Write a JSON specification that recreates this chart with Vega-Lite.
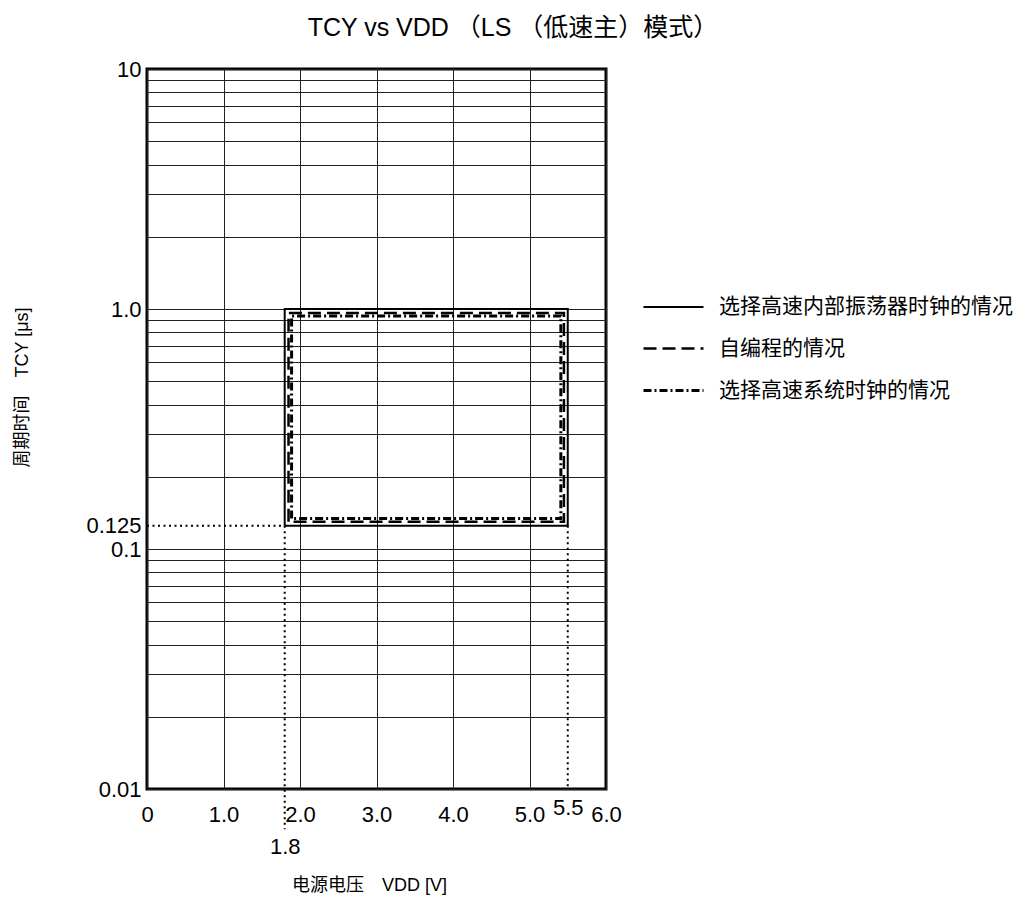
{
  "$schema": "https://vega.github.io/schema/vega-lite/v6.json",
  "width": 459,
  "height": 720,
  "autosize": {"type": "none"},
  "padding": {"left": 147, "top": 69, "right": 410, "bottom": 110},
  "background": "white",
  "title": {
    "text": "TCY vs VDD （LS （低速主）模式）",
    "font": "Liberation Sans, Noto Sans CJK SC",
    "fontSize": 25,
    "fontWeight": "normal",
    "color": "black",
    "anchor": "middle",
    "frame": "bounds",
    "offset": 17
  },
  "config": {
    "view": {"stroke": "black", "strokeWidth": 3},
    "font": "Liberation Sans, Noto Sans CJK SC",
    "axis": {
      "domain": false,
      "ticks": false,
      "tickSize": 0,
      "labelFont": "Liberation Sans",
      "labelFontSize": 22,
      "labelColor": "black",
      "labelOverlap": false,
      "labelBound": false,
      "labelFlush": false,
      "gridColor": "#222222",
      "gridWidth": 1,
      "titleFont": "Liberation Sans, Noto Sans CJK SC",
      "titleFontSize": 18,
      "titleFontWeight": "normal",
      "titleColor": "black"
    }
  },
  "datasets": {
    "boxes": [
      {"series": "选择高速内部振荡器时钟的情况", "ord": 1, "v": 1.8, "t": 0.125},
      {"series": "选择高速内部振荡器时钟的情况", "ord": 2, "v": 1.8, "t": 1.0},
      {"series": "选择高速内部振荡器时钟的情况", "ord": 3, "v": 5.5, "t": 1.0},
      {"series": "选择高速内部振荡器时钟的情况", "ord": 4, "v": 5.5, "t": 0.125},
      {"series": "选择高速内部振荡器时钟的情况", "ord": 5, "v": 1.8, "t": 0.125},
      {"series": "自编程的情况", "ord": 1, "v": 1.85, "t": 0.13},
      {"series": "自编程的情况", "ord": 2, "v": 1.85, "t": 0.962},
      {"series": "自编程的情况", "ord": 3, "v": 5.45, "t": 0.962},
      {"series": "自编程的情况", "ord": 4, "v": 5.45, "t": 0.13},
      {"series": "自编程的情况", "ord": 5, "v": 1.85, "t": 0.13},
      {"series": "选择高速系统时钟的情况", "ord": 1, "v": 1.89, "t": 0.134},
      {"series": "选择高速系统时钟的情况", "ord": 2, "v": 1.89, "t": 0.935},
      {"series": "选择高速系统时钟的情况", "ord": 3, "v": 5.41, "t": 0.935},
      {"series": "选择高速系统时钟的情况", "ord": 4, "v": 5.41, "t": 0.134},
      {"series": "选择高速系统时钟的情况", "ord": 5, "v": 1.89, "t": 0.134}
    ],
    "guides": [
      {"x1": 0, "x2": 1.8, "y1": 0.125, "y2": 0.125},
      {"x1": 1.8, "x2": 1.8, "y1": 0.125, "y2": 0.0068},
      {"x1": 5.5, "x2": 5.5, "y1": 0.125, "y2": 0.01}
    ]
  },
  "layer": [
    {
      "data": {"name": "guides"},
      "mark": {"type": "rule", "color": "black", "strokeWidth": 2, "strokeDash": [2, 3.5]},
      "encoding": {
        "x": {
          "field": "x1",
          "type": "quantitative",
          "scale": {"domain": [0, 6], "nice": false, "zero": false},
          "axis": {
            "title": "电源电压　VDD [V]",
            "titlePadding": 19,
            "titleX": 222,
            "values": [0, 1, 1.8, 2, 3, 4, 5, 5.5, 6],
            "labelExpr": "datum.value == 0 ? '0' : format(datum.value, '.1f')",
            "grid": true,
            "gridOpacity": {"condition": {"test": "datum.value == 1.8 || datum.value == 5.5", "value": 0}, "value": 1},
            "labelPadding": {"condition": [{"test": "datum.value == 1.8", "value": 47}, {"test": "datum.value == 5.5", "value": 8}], "value": 15}
          }
        },
        "x2": {"field": "x2"},
        "y": {
          "field": "y1",
          "type": "quantitative",
          "scale": {"type": "log", "domain": [0.01, 10], "nice": false},
          "axis": {
            "title": "周期时间　TCY [μs]",
            "titleX": -125,
            "titleY": 318,
            "titleAlign": "center",
            "titleBaseline": "middle",
            "values": [0.01, 0.02, 0.03, 0.04, 0.05, 0.06, 0.07, 0.08, 0.09, 0.1, 0.125, 0.2, 0.3, 0.4, 0.5, 0.6, 0.7, 0.8, 0.9, 1, 2, 3, 4, 5, 6, 7, 8, 9, 10],
            "labelExpr": "datum.value == 10 ? '10' : datum.value == 1 ? '1.0' : datum.value == 0.125 ? '0.125' : datum.value == 0.1 ? '0.1' : datum.value == 0.01 ? '0.01' : ''",
            "labelPadding": 6,
            "grid": true,
            "gridOpacity": {"condition": {"test": "datum.value == 0.125", "value": 0}, "value": 1}
          }
        },
        "y2": {"field": "y2"}
      }
    },
    {
      "data": {"name": "boxes"},
      "mark": {"type": "line", "color": "black"},
      "encoding": {
        "x": {"field": "v", "type": "quantitative"},
        "y": {"field": "t", "type": "quantitative"},
        "order": {"field": "ord", "type": "quantitative"},
        "strokeWidth": {
          "field": "series",
          "type": "nominal",
          "scale": {
            "domain": ["选择高速内部振荡器时钟的情况", "自编程的情况", "选择高速系统时钟的情况"],
            "range": [2, 3, 2.5]
          }
        },
        "strokeDash": {
          "field": "series",
          "type": "nominal",
          "scale": {
            "domain": ["选择高速内部振荡器时钟的情况", "自编程的情况", "选择高速系统时钟的情况"],
            "range": [[1, 0], [13, 6], [8, 3, 2, 3]]
          },
          "legend": {
            "title": null,
            "orient": "none",
            "legendX": 495,
            "legendY": 207,
            "symbolType": "stroke",
            "symbolSize": 3600,
            "symbolStrokeColor": "black",
            "labelFont": "Noto Sans CJK SC",
            "labelFontSize": 21,
            "labelColor": "black",
            "labelOffset": 14,
            "labelLimit": 400,
            "rowPadding": 0
          }
        }
      }
    }
  ]
}
